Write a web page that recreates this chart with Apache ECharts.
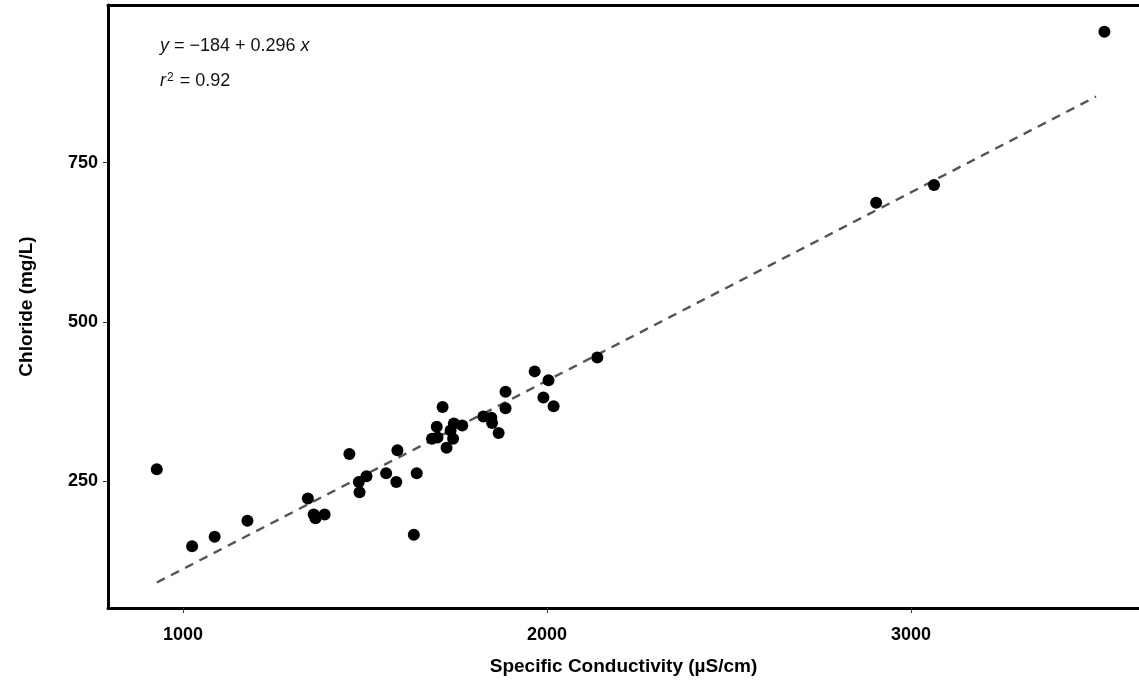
<!DOCTYPE html>
<html>
<head>
<meta charset="utf-8">
<script src="https://cdn.jsdelivr.net/npm/echarts@6/dist/echarts.min.js"></script>
<style>
  html, body { margin: 0; padding: 0; background: #fff; }
  #chart { width: 1139px; height: 685px; }
</style>
</head>
<body>
<div id="chart"></div>
<script>
// Specific conductivity (µS/cm) for each sample
const conductivity = [
  928, 1025, 1087, 1177, 1343, 1359, 1364, 1389, 1457, 1483,
  1485, 1504, 1558, 1586, 1589, 1634, 1642,
  1713, 1697, 1744, 1767, 1684, 1699, 1735, 1742, 1724,
  1825, 1847, 1849, 1867, 1886, 1886,
  1966, 2004, 1990, 2018, 2138, 2904, 3063, 3531
];
// Chloride (mg/L) for each sample
const chloride = [
  268, 147, 162, 187, 222, 197, 191, 197, 292, 248,
  232, 257, 262, 248, 298, 165, 262,
  366, 335, 340, 337, 316, 318, 329, 316, 302,
  351, 349, 341, 325, 364, 390,
  422, 408, 381, 367, 444, 687, 715, 956
];
// Fitted regression line end points (x, y)
const fitX = [928, 3508];
const fitY = [90, 854];
// Tick values
const xTicks = [1000, 2000, 3000];
const yTicks = [250, 500, 750];

const points = conductivity.map((c, i) => [c, chloride[i]]);
const fitLine = fitX.map((x, i) => [x, fitY[i]]);

const FONT = '"Liberation Sans", Arial, sans-serif';
const chart = echarts.init(document.getElementById('chart'), null, { renderer: 'canvas' });

const frameLine = { show: true, onZero: false, lineStyle: { color: '#000', width: 3 } };

chart.setOption({
  backgroundColor: '#ffffff',
  animation: false,
  grid: { left: 108, top: 5, bottom: 77, right: 0, show: false },
  xAxis: [
    {
      type: 'value', min: 794, max: 3626, position: 'bottom',
      name: 'Specific Conductivity (\u00b5S/cm)',
      nameLocation: 'middle', nameGap: 49,
      nameTextStyle: { fontFamily: FONT, fontWeight: 'bold', fontSize: 19, color: '#000' },
      axisLine: frameLine,
      splitLine: { show: false },
      axisTick: { show: true, customValues: xTicks, length: 5, lineStyle: { color: '#333', width: 1 } },
      axisLabel: {
        customValues: xTicks, margin: 18, fontFamily: FONT, fontWeight: 'bold', fontSize: 18, color: '#000',
        formatter: v => String(v)
      }
    },
    {
      type: 'value', min: 794, max: 3626, position: 'top',
      axisLine: frameLine, axisTick: { show: false }, axisLabel: { show: false }, splitLine: { show: false }
    }
  ],
  yAxis: {
    type: 'value', min: 50, max: 998,
    name: 'Chloride (mg/L)',
    nameLocation: 'middle', nameGap: 72,
    nameTextStyle: { fontFamily: FONT, fontWeight: 'bold', fontSize: 19, color: '#000' },
    axisLine: frameLine,
    splitLine: { show: false },
    axisTick: { show: true, customValues: yTicks, length: 5, lineStyle: { color: '#333', width: 1 } },
    axisLabel: {
      customValues: yTicks, margin: 10, fontFamily: FONT, fontWeight: 'bold', fontSize: 18, color: '#000',
      formatter: v => String(v)
    }
  },
  series: [
    {
      type: 'line', data: fitLine, symbol: 'none', silent: true, z: 2,
      lineStyle: { color: '#555', width: 2.4, type: [9, 7] }
    },
    {
      type: 'scatter', data: points, symbol: 'circle', symbolSize: 12, z: 3,
      itemStyle: { color: '#000', opacity: 1 }
    }
  ],
  graphic: [
    {
      type: 'text', left: 160, top: 37,
      style: {
        text: '{i|y} = \u2212184 + 0.296 {i|x}',
        rich: { i: { fontStyle: 'italic', fontFamily: FONT, fontSize: 18, fill: '#111' } },
        fontFamily: FONT, fontSize: 18, fill: '#111'
      }
    },
    {
      type: 'text', left: 160, top: 72,
      style: {
        text: '{i|r}{s|2} = 0.92',
        rich: {
          i: { fontStyle: 'italic', fontFamily: FONT, fontSize: 18, fill: '#111' },
          s: { fontFamily: FONT, fontSize: 12, fill: '#111', verticalAlign: 'top', lineHeight: 18, padding: [0, 1, 12, 1] }
        },
        fontFamily: FONT, fontSize: 18, fill: '#111'
      }
    }
  ]
});
</script>
</body>
</html>
